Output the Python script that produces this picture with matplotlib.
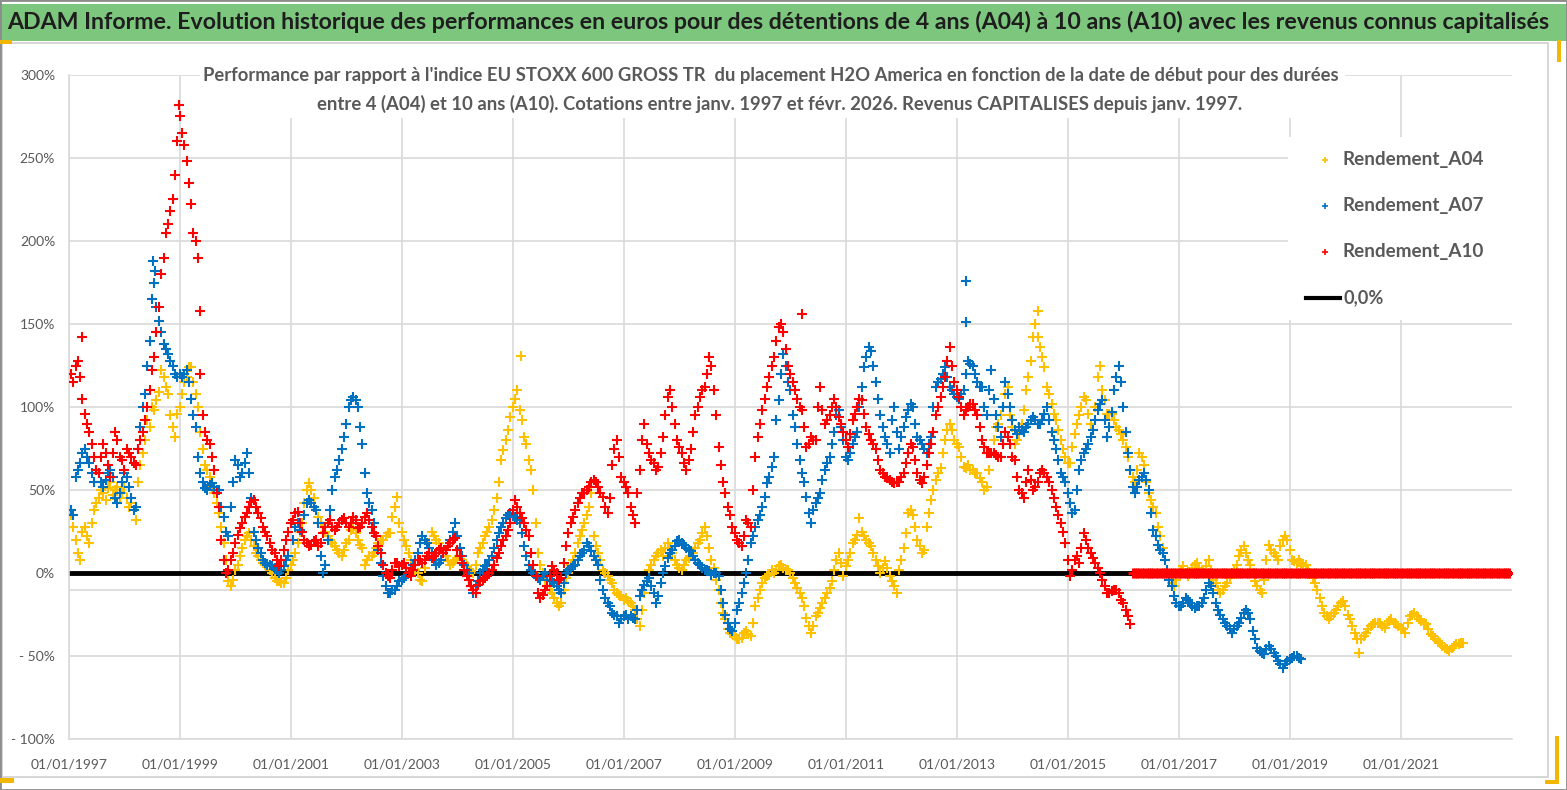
import matplotlib
matplotlib.use("Agg")
import matplotlib.pyplot as plt
import matplotlib.dates as mdates
from matplotlib.patches import Rectangle
from matplotlib.lines import Line2D
import pandas as pd

# Rendements (en %), un point par mois a partir de janv. 1997
a04_pct = [
    35, 20, 8, 28, 18, 38, 45, 48, 51, 47, 52, 48,            # 1997
    45, 42, 32, 65, 80, 88, 98, 109, 118, 108, 88, 96,        # 1998
    108, 118, 124, 108, 85, 65, 58, 48, 36, 18, -5, -4,       # 1999
    5, 15, 22, 20, 12, 8, 5, 2, -3, -5, -6, 2,                # 2000
    8, 18, 30, 50, 50, 38, 30, 25, 20, 16, 12, 14,            # 2001
    20, 28, 20, 15, 8, 10, 15, 20, 22, 24, 40, 30,            # 2002
    20, 12, 5, 0, -5, 10, 25, 20, 15, 10, 5, 8,               # 2003
    10, 6, 2, 0, 12, 18, 25, 32, 45, 68, 80, 94,              # 2004
    105, 98, 82, 68, 50, 12, 0, -8, -12, -18, -18, -3,        # 2005
    5, 12, 22, 30, 40, 22, 12, 2, -2, -6, -12, -14,           # 2006
    -15, -18, -22, -32, -12, 2, 8, 12, 10, 18, 12, 5,         # 2007
    2, 8, 10, 15, 20, 28, 15, 3, -10, -24, -34, -37,          # 2008
    -40, -39, -35, -38, -20, -10, -3, -1, 0, 4, 3, 2,         # 2009
    -3, -9, -15, -27, -36, -26, -21, -15, -9, 2, 12, -2,      # 2010
    8, 18, 23, 25, 20, 16, 8, 0, 7, -2, -8, 2,                # 2011
    15, 36, 35, 20, 12, 28, 44, 56, 63, 80, 90, 80,           # 2012
    76, 64, 65, 62, 60, 55, 52, 72, 88, 95, 108, 95,          # 2013
    78, 84, 98, 118, 142, 142, 130, 112, 102, 92, 80, 70,     # 2014
    66, 84, 95, 106, 96, 86, 118, 110, 96, 96, 88, 84,        # 2015
    76, 62, 55, 72, 65, 48, 40, 28, 15, 2, -6, -4,            # 2016
    2, 0, 0, 5, 3, 0, 8, -4, -10, -10, -6, 0,                 # 2017
    5, 14, 12, 5, -5, -10, -4, 17, 12, 8, 20, 20,             # 2018
    8, 6, 6, 5, 0, -6, -15, -24, -28, -24, -20, -17,          # 2019
    -25, -32, -40, -40, -36, -32, -30, -30, -33, -29, -30, -32,  # 2020
    -34, -30, -25, -26, -29, -31, -37, -40, -42, -45, -47, -44,  # 2021
    -43, -42,                                                  # 2022
]
# seconde lecture, en fin de mois (dispersion du nuage)
a04_mid_pct = [
    28, 12, 25, 22, 30, 42, 50, 44, 55, 50, 45, 52,
    40, 38, 55, 72, 92, 100, 104, 122, 112, 95, 82, 100,
    115, 124, 115, 100, 75, 62, 52, 42, 28, 8, -8, 2,
    10, 20, 24, 16, 10, 6, 4, 0, -5, -6, -3, 5,
    12, 25, 42, 54, 45, 34, 28, 22, 18, 14, 10, 18,
    26, 24, 17, 5, 10, 12, 18, 20, 24, 34, 46, 25,
    16, 8, 2, -4, 3, 18, 22, 18, 12, 7, 6, 9,
    8, 4, 1, 5, 15, 22, 28, 38, 55, 74, 86, 100,
    110, 92, 78, 62, 30, 5, -4, -10, -15, -20, -10, 0,
    8, 18, 26, 35, 48, 16, 8, 0, -4, -10, -13, -16,
    -17, -20, -28, -22, -5, 5, 10, 14, 15, 15, 8, 3,
    5, 9, 12, 18, 24, 22, 8, -4, -18, -28, -36, -38,
    -40, -36, -37, -30, -15, -6, -2, 2, 2, 5, 2, 0,
    -6, -12, -20, -32, -32, -24, -18, -12, -5, 8, 6, 4,
    12, 20, 33, 22, 18, 12, 4, 3, 3, -5, -12, 8,
    24, 38, 28, 16, 14, 36, 50, 60, 72, 86, 86, 78,
    70, 63, 62, 60, 57, 50, 62, 80, 90, 100, 112, 88,
    80, 90, 110, 128, 150, 136, 124, 108, 96, 86, 75, 66,
    76, 90, 100, 104, 90, 100, 125, 104, 96, 92, 86, 80,
    70, 58, 62, 70, 55, 44, 36, 22, 8, -2, -8, 0,
    4, -2, 3, 6, 0, 4, 2, -6, -12, -8, -3, 2,
    10, 16, 8, 0, -8, -12, 8, 14, 10, 16, 22, 14,
    7, 8, 4, 2, -3, -10, -20, -26, -26, -22, -18, -20,
    -28, -36, -48, -38, -34, -31, -30, -32, -31, -28, -31, -33,
    -36, -26, -24, -28, -30, -34, -38, -41, -44, -46, -45, -43,
    -42,
]

a07_pct = [
    38, 58, 66, 75, 66, 55, 60, 52, 60, 58, 42, 55,           # 1997
    58, 45, 40, 88, 108, 140, 175, 152, 138, 132, 125, 118,   # 1998
    118, 122, 105, 88, 60, 51, 53, 52, 50, 34, 22, 55,        # 1999
    65, 60, 72, 45, 20, 12, 6, 5, 3, 0, 4, 10,                # 2000
    20, 30, 25, 42, 42, 38, 10, 5, 38, 58, 68, 82,            # 2001
    100, 106, 100, 78, 48, 38, 22, 6, -8, -12, -10, -5,       # 2002
    -3, 0, 5, 12, 22, 18, 12, 5, 8, 14, 20, 30,               # 2003
    15, 5, 0, -12, -5, 2, 5, 10, 20, 28, 33, 36,              # 2004
    34, 30, 16, 5, 0, -3, -2, -2, -5, -8, -12, 0,             # 2005
    3, 5, 10, 14, 16, 10, 5, -10, -18, -24, -26, -28,         # 2006
    -25, -26, -28, -14, -7, -3, -12, -14, 0, 9, 14, 19,       # 2007
    18, 15, 13, 8, 5, 2, 1, 0, -2, -18, -30, -35,             # 2008
    -22, -12, 0, 18, 28, 35, 46, 58, 70, 104, 132, 115,       # 2009
    95, 78, 60, 46, 30, 42, 48, 62, 70, 85, 98, 80,           # 2010
    68, 78, 85, 112, 130, 134, 115, 95, 82, 72, 100, 75,      # 2011
    88, 98, 100, 82, 78, 72, 82, 112, 117, 124, 112, 108,     # 2012
    105, 110, 128, 125, 115, 112, 95, 122, 95, 82, 115, 100,  # 2013
    86, 88, 85, 90, 94, 90, 92, 100, 85, 75, 60, 55,          # 2014
    42, 38, 62, 72, 78, 86, 98, 104, 82, 97, 118, 115,        # 2015
    85, 62, 48, 56, 60, 50, 26, 17, 12, 2, -8, -18,           # 2016
    -20, -15, -18, -21, -20, -15, -6, -12, -22, -28, -32, -36,  # 2017
    -32, -27, -22, -28, -40, -47, -49, -44, -48, -53, -57, -53,  # 2018
    -51, -50, -52,                                             # 2019
]
a07_mid_pct = [
    35, 62, 72, 70, 60, 62, 55, 56, 62, 45, 48, 60,
    52, 38, 75, 100, 125, 165, 160, 145, 135, 128, 120, 120,
    120, 115, 95, 70, 55, 50, 54, 50, 40, 25, 40, 68,
    58, 66, 60, 25, 15, 8, 5, 4, 2, 2, 8, 30,
    28, 26, 35, 44, 40, 30, 0, 20, 50, 62, 75, 90,
    104, 104, 88, 60, 42, 30, 14, -2, -12, -10, -8, -4,
    -2, 3, 8, 18, 20, 15, 8, 6, 12, 16, 25, 22,
    10, 2, -8, -8, 0, 4, 8, 15, 24, 30, 35, 35,
    32, 24, 10, 2, -2, -4, 0, -4, -6, -10, -6, 2,
    4, 8, 12, 18, 13, 8, -4, -15, -20, -25, -30, -26,
    -28, -27, -22, -10, -5, -8, -18, -6, 4, 12, 16, 20,
    17, 14, 10, 6, 3, 2, -1, 0, -10, -25, -34, -30,
    -18, -6, 8, 22, 32, 40, 54, 64, 92, 120, 125, 110,
    88, 68, 55, 36, 38, 45, 56, 66, 78, 95, 88, 70,
    72, 82, 100, 124, 136, 125, 105, 88, 78, 92, 85, 82,
    94, 102, 90, 80, 75, 78, 100, 115, 120, 118, 110, 106,
    108, 120, 126, 120, 112, 100, 110, 105, 88, 100, 108, 92,
    84, 86, 88, 92, 92, 90, 96, 92, 80, 68, 58, 48,
    36, 50, 68, 75, 82, 92, 102, 92, 88, 110, 125, 100,
    72, 52, 52, 58, 56, 36, 22, 14, 8, -4, -14, -20,
    -18, -16, -20, -20, -18, -10, -8, -18, -25, -30, -34, -34,
    -30, -24, -24, -35, -45, -48, -46, -46, -50, -55, -55, -52,
    -50, -51,
]

a10_pct = [
    120, 125, 118, 96, 85, 70, 60, 78, 65, 72, 80, 68,        # 1997
    75, 70, 65, 80, 92, 110, 130, 160, 190, 210, 225, 260,    # 1998
    265, 248, 222, 200, 120, 85, 78, 62, 40, 8, 2, 12,        # 1999
    23, 30, 36, 43, 40, 33, 25, 18, 12, 4, 14, 25,            # 2000
    32, 37, 25, 18, 17, 20, 18, 28, 32, 26, 30, 33,           # 2001
    28, 34, 27, 30, 36, 28, 22, 12, 0, -3, 6, 4,              # 2002
    6, 0, 2, 8, 6, 10, 9, 12, 15, 14, 18, 21,                 # 2003
    10, 2, -4, -10, -7, -4, -2, 2, 9, 16, 22, 30,             # 2004
    44, 36, 30, 22, 5, -12, -13, -8, 4, 0, -3, 16,            # 2005
    30, 38, 45, 48, 52, 56, 52, 46, 36, 65, 80, 58,           # 2006
    52, 40, 30, 62, 90, 72, 66, 64, 82, 106, 100, 80,         # 2007
    72, 62, 75, 95, 106, 112, 130, 110, 76, 55, 40, 28,       # 2008
    20, 16, 32, 28, 70, 90, 105, 118, 130, 148, 145, 125,     # 2009
    115, 105, 98, 76, 82, 80, 112, 90, 95, 105, 94, 85,       # 2010
    76, 92, 100, 104, 88, 80, 75, 62, 58, 56, 54, 55,         # 2011
    60, 72, 76, 60, 54, 65, 78, 95, 106, 118, 136, 115,       # 2012
    106, 95, 100, 102, 95, 80, 72, 72, 71, 70, 85, 78,        # 2013
    68, 50, 45, 62, 50, 55, 62, 58, 50, 40, 30, 18,           # 2014
    -2, 8, 6, 24, 15, 9, 3, -4, -12, -11, -10, -16,           # 2015
    -22, -31,                                                  # 2016
]
a10_mid_pct = [
    115, 128, 105, 90, 78, 62, 70, 72, 58, 85, 70, 62,
    72, 66, 75, 85, 100, 122, 145, 180, 205, 218, 240, 275,
    258, 235, 205, 190, 95, 80, 70, 48, 20, 0, 8, 18,
    27, 34, 40, 44, 36, 28, 22, 14, 8, 8, 20, 30,
    36, 30, 20, 16, 19, 16, 24, 30, 28, 28, 32, 30,
    30, 32, 28, 34, 32, 24, 16, 5, -2, 2, 6, 5,
    3, -2, 5, 8, 8, 12, 10, 14, 12, 16, 20, 14,
    6, -2, -8, -12, -5, -3, 0, 5, 12, 20, 26, 38,
    40, 33, 26, 12, -2, -15, -10, -2, 2, -4, 6, 24,
    34, 42, 48, 50, 55, 55, 48, 40, 45, 75, 70, 55,
    48, 35, 48, 80, 78, 68, 62, 72, 95, 110, 90, 76,
    66, 68, 85, 100, 110, 120, 125, 95, 65, 48, 35, 24,
    18, 22, 30, 50, 82, 98, 112, 125, 140, 150, 135, 120,
    110, 100, 88, 78, 80, 100, 98, 92, 100, 100, 90, 80,
    84, 96, 105, 96, 84, 78, 68, 60, 57, 55, 55, 58,
    66, 78, 68, 56, 58, 72, 85, 100, 112, 128, 125, 110,
    100, 98, 102, 98, 88, 76, 72, 72, 70, 78, 82, 70,
    58, 48, 55, 56, 52, 60, 60, 55, 45, 35, 25, 8,
    2, 10, 15, 20, 12, 6, 0, -8, -12, -10, -12, -18,
    -26,
]
# apres fevr. 2016, la serie A10 est tracee a 0 % jusqu'a fin 2022
a10_zero_start = "2016-03-01"
a10_zero_end = "2022-12-31"

# points isoles
a04_out_dates = ["2005-02-24", "2014-06-15"]
a04_out_pct = [131, 158]
a07_out_dates = ["1998-07-10", "1998-07-22", "2013-02-26", "2013-03-02"]
a07_out_pct = [188, 182, 176, 151]
a10_out_dates = ["1997-03-28", "1998-12-28", "1999-05-10", "2010-03-20"]
a10_out_pct = [142, 282, 158, 156]

series_names = ["Rendement_A04", "Rendement_A07", "Rendement_A10"]
series_colors = ["#FFC000", "#0070C0", "#FF0000"]
tick_years = [1997, 1999, 2001, 2003, 2005, 2007, 2009, 2011, 2013, 2015, 2017, 2019, 2021]
y_ticks = [-100, -50, 0, 50, 100, 150, 200, 250, 300]

title = ("ADAM Informe. Evolution historique des performances en euros pour des détentions "
         "de 4 ans (A04) à 10 ans (A10) avec les revenus connus capitalisés")
sub1 = ("Performance par rapport à l'indice EU STOXX 600 GROSS TR  du placement H2O America "
        "en fonction de la date de début pour des durées")
sub2 = ("entre 4 (A04) et 10 ans (A10). Cotations entre janv. 1997 et févr. 2026. "
        "Revenus CAPITALISES depuis janv. 1997.")

W, H = 1567, 790
GRID = "#D9D9D9"
TXT = "#595959"
FONT = ["Lato", "DejaVu Sans"]
MS, MEW = 7, 1.5


def months(start, n, day=14):
    return pd.date_range(start, periods=n, freq="MS") + pd.Timedelta(days=day)


def fig_rect(x0, y0, x1, y1):
    # rectangle en pixels (origine en haut a gauche)
    return (x0 / W, 1 - y1 / H), (x1 - x0) / W, (y1 - y0) / H


fig = plt.figure(figsize=(W / 100, H / 100), dpi=100)
fig.patch.set_facecolor("white")

ax = fig.add_axes([69 / W, 1 - 739 / H, (1512 - 69) / W, (739 - 75) / H])
ax.set_facecolor("white")

# grille
ax.set_axisbelow(True)
ax.grid(True, color=GRID, linewidth=1.2)
ax.axhline(-10, color=GRID, linewidth=1.2, zorder=0.6)
for s in ["top", "right"]:
    ax.spines[s].set_visible(False)
for s in ["left", "bottom"]:
    ax.spines[s].set_color(GRID)
    ax.spines[s].set_linewidth(1.2)

# ligne 0,0 %
ax.axhline(0, color="black", linewidth=3.5, zorder=1.8)

main_vals = [a04_pct, a07_pct, a10_pct]
mid_vals = [a04_mid_pct, a07_mid_pct, a10_mid_pct]
outs = [(a04_out_dates, a04_out_pct), (a07_out_dates, a07_out_pct), (a10_out_dates, a10_out_pct)]
for i in range(3):
    style = dict(linestyle="none", marker="+", ms=MS, mew=MEW, color=series_colors[i], zorder=3 + i)
    ax.plot(months("1997-01-01", len(main_vals[i])), main_vals[i], **style)
    ax.plot(months("1997-01-01", len(mid_vals[i]), day=29), mid_vals[i], **style)
    od, ov = outs[i]
    ax.plot(pd.to_datetime(od), ov, **style)

zero_dates = pd.date_range(a10_zero_start, a10_zero_end, freq="SMS")
ax.plot(zero_dates, [0.0] * len(zero_dates), linestyle="none", marker="+", ms=MS, mew=2.2,
        color=series_colors[2], zorder=5)

ax.set_xlim(pd.Timestamp("1997-01-01"), pd.Timestamp("2023-01-01"))
ax.set_ylim(-100, 300)
ax.set_xticks([pd.Timestamp(f"{y}-01-01") for y in tick_years])
ax.xaxis.set_major_formatter(mdates.DateFormatter("%d/%m/%Y"))
ax.set_yticks(y_ticks)
ax.set_yticklabels([f"{v}%" if v >= 0 else f"- {abs(v)}%" for v in y_ticks])
ax.tick_params(length=0, colors=TXT, labelsize=10)
ax.tick_params(axis="x", pad=14)
ax.tick_params(axis="y", pad=10)
for lab in ax.get_xticklabels() + ax.get_yticklabels():
    lab.set_family(FONT)

# caches blancs (sous-titre et legende)
for (x0, y0, x1, y1) in [(200, 60, 1345, 118), (1288, 137, 1515, 320)]:
    xy, w, h = fig_rect(x0, y0, x1, y1)
    ax.add_patch(Rectangle(xy, w, h, transform=fig.transFigure, facecolor="white",
                           edgecolor="none", zorder=1.5, clip_on=False))

# bandeau titre
xy, w, h = fig_rect(0, 4, W, 41)
fig.patches.append(Rectangle(xy, w, h, transform=fig.transFigure, facecolor="#7DC67E",
                             edgecolor="none", zorder=0))
# cadres
xy, w, h = fig_rect(2, 43, 1548, 777)
fig.patches.append(Rectangle(xy, w, h, transform=fig.transFigure, facecolor="none",
                             edgecolor="#D0D0D0", linewidth=1.2, zorder=0))
fig.patches.append(Rectangle((0, 0), 1, 1, transform=fig.transFigure, facecolor="none",
                             edgecolor="#8C8C8C", linewidth=2, zorder=0))
# poignees de selection
for (x0, y0, x1, y1) in [(0, 40, 12, 44), (0, 778, 14, 783), (1557, 40, 1561, 62),
                         (1555, 736, 1559, 784), (1545, 780, 1559, 784)]:
    xy, w, h = fig_rect(x0, y0, x1, y1)
    fig.patches.append(Rectangle(xy, w, h, transform=fig.transFigure, facecolor="#F2B705",
                                 edgecolor="none", zorder=1))

renderer = fig.canvas.get_renderer()


def put_text(s, cx, cy, width, ha="center", **kw):
    t = fig.text(cx / W, 1 - cy / H, s, ha=ha, va="center", family=FONT, fontsize=12, **kw)
    wpx = t.get_window_extent(renderer).width
    t.set_fontsize(12 * width / wpx)
    return t


put_text(title, 778, 22, 1533, fontweight="bold", color="#1E1E1E")
put_text(sub1, 771, 76, 1128, fontweight="bold", color=TXT)
put_text(sub2, 780, 104, 920, fontweight="bold", color=TXT)

# legende
leg_y = [160, 206, 252]
for i, name in enumerate(series_names):
    fig.add_artist(Line2D([1325 / W], [1 - leg_y[i] / H], marker="+", ms=5, mew=1.2,
                          color=series_colors[i], linestyle="none"))
    put_text(name, 1343, leg_y[i], 140, ha="left", fontweight="bold", color=TXT)
fig.add_artist(Line2D([1306 / W, 1340 / W], [1 - 298 / H] * 2, color="black", linewidth=3))
put_text("0,0%", 1343, 298, 40, ha="left", fontweight="bold", color=TXT)

fig.savefig("out.png", dpi=100)
